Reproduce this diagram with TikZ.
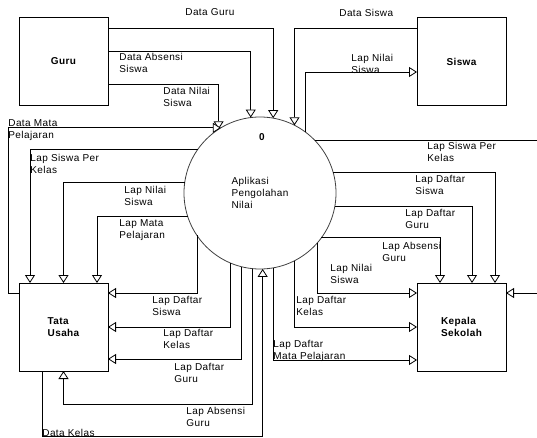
\documentclass[tikz,border=0pt]{standalone}
\usepackage{fontspec}
\setmainfont{Liberation Sans}[LetterSpace=4]
\usetikzlibrary{arrows.meta}

\tikzset{every picture/.style={line width=0.8pt}}
\tikzset{
  entity/.style={draw, minimum width=89pt, minimum height=88pt, inner sep=0pt, outer sep=0pt, align=left, font=\fontsize{10}{12.5}\selectfont\bfseries},
  proc/.style={draw=black!75, circle, minimum size=152pt, inner sep=0pt, outer sep=0pt, align=left, font=\fontsize{10}{12}\selectfont},
  flow/.style={-{Triangle[fill=white, length=8pt, width=10pt]}},
  lbl/.style={anchor=north west, inner sep=0pt, align=left, font=\fontsize{10}{12}\selectfont}
}

\begin{document}
\begin{tikzpicture}[x=1pt,y=1pt,yscale=-1,xscale=1]
	\useasboundingbox (0,0) rectangle (537,438);
	\clip (0,0) rectangle (537,438);

	%Entities and process
	\node[entity] (guru) at (63.5,61.5) {Guru};
	\node[entity] (siswa) at (461.5,61.5) {Siswa};
	\node[entity] (tu) at (63.5,327) {Tata\\Usaha};
	\node[entity] (kepsek) at (461.5,327) {Kepala\\Sekolah};
	\node[proc] (proses) at (260,193) {Aplikasi\\Pengolahan\\Nilai};
	\node[font=\fontsize{10}{12}\selectfont\bfseries] (nol) at (262,137) {0};

	%Flows from Guru and Siswa
	\draw[flow] (guru.east |- 0,28) -| (proses.80);
	\draw[flow] (guru.east |- 0,51) -| (proses.97);
	\draw[flow] (guru.east |- 0,84) -| (proses.123);
	\draw[flow] (siswa.west |- 0,28) -| (proses.63);
	\draw[flow] (proses.53) |- (siswa.west |- 0,72);

	%Flows to Kepala Sekolah
	\draw[flow] (proses.44) -| (545,293) -- (kepsek.east |- 0,293);
	\draw[flow] (proses.16) -| (495,0 |- kepsek.north);
	\draw[flow] (proses.350) -| (472,0 |- kepsek.north);
	\draw[flow] (proses.324) -| (440,0 |- kepsek.north);
	\draw[flow] (proses.319) |- (kepsek.west |- 0,293);
	\draw[flow] (proses.297) |- (kepsek.west);
	\draw[flow] (proses.280) |- (kepsek.west |- 0,360);

	%Flows to Tata Usaha
	\draw[flow] (proses.145) -| (30,0 |- tu.north);
	\draw[flow] (proses.172) -| (tu.north);
	\draw[flow] (proses.198) -| (97,0 |- tu.north);
	\draw[flow] (proses.214) |- (tu.east |- 0,293);
	\draw[flow] (proses.247) |- (tu.east);
	\draw[flow] (proses.256) |- (tu.east |- 0,359);
	\draw[flow] (proses.264) |- (tu.south |- 0,404) -- (tu.south);

	%Flows from Tata Usaha
	\draw[flow] (42,0 |- tu.south) -- (42,436) -| (proses.272);
	\draw[flow] (tu.west |- 0,293) -- (8,293) |- (proses.121);

	% Text Nodes
	\node[lbl] (l-dguru) at (185,8.5) {Data Guru};
	\node[lbl] (l-dabsensi) at (119,52.5) {Data Absensi\\Siswa};
	\node[lbl] (l-dnilai) at (163,86.5) {Data Nilai\\Siswa};
	\node[lbl] (l-dmapel) at (8,119.5) {Data Mata\\Pelajaran};
	\node[lbl] (l-dsiswa) at (339,8.5) {Data Siswa};
	\node[lbl] (l-lnilai-s) at (351,53.5) {Lap Nilai\\ Siswa};
	\node[lbl] (l-lkelas-k) at (427,141.5) {Lap Siswa Per\\Kelas};
	\node[lbl] (l-ldsiswa-k) at (415,174.5) {Lap Daftar\\Siswa};
	\node[lbl] (l-ldguru-k) at (405,208.5) {Lap Daftar\\Guru};
	\node[lbl] (l-labsensi-k) at (382,241.5) {Lap Absensi\\Guru};
	\node[lbl] (l-lnilai-k) at (330,263.5) {Lap Nilai\\Siswa};
	\node[lbl] (l-ldkelas-k) at (296,295.5) {Lap Daftar\\Kelas};
	\node[lbl] (l-ldmapel-k) at (273,339.5) {Lap Daftar\\Mata Pelajaran};
	\node[lbl] (l-lkelas-t) at (30,153.5) {Lap Siswa Per\\Kelas};
	\node[lbl] (l-lnilai-t) at (124,185.5) {Lap Nilai\\ Siswa};
	\node[lbl] (l-lmapel-t) at (119,219.5) {Lap Mata\\Pelajaran};
	\node[lbl] (l-ldsiswa-t) at (152,295.5) {Lap Daftar\\Siswa};
	\node[lbl] (l-ldkelas-t) at (163,328.5) {Lap Daftar\\Kelas};
	\node[lbl] (l-ldguru-t) at (174,362.5) {Lap Daftar\\Guru};
	\node[lbl] (l-labsensi-t) at (186,406.5) {Lap Absensi\\Guru};
	\node[lbl] (l-dkelas) at (42,428.5) {Data Kelas};

\end{tikzpicture}
\end{document}
